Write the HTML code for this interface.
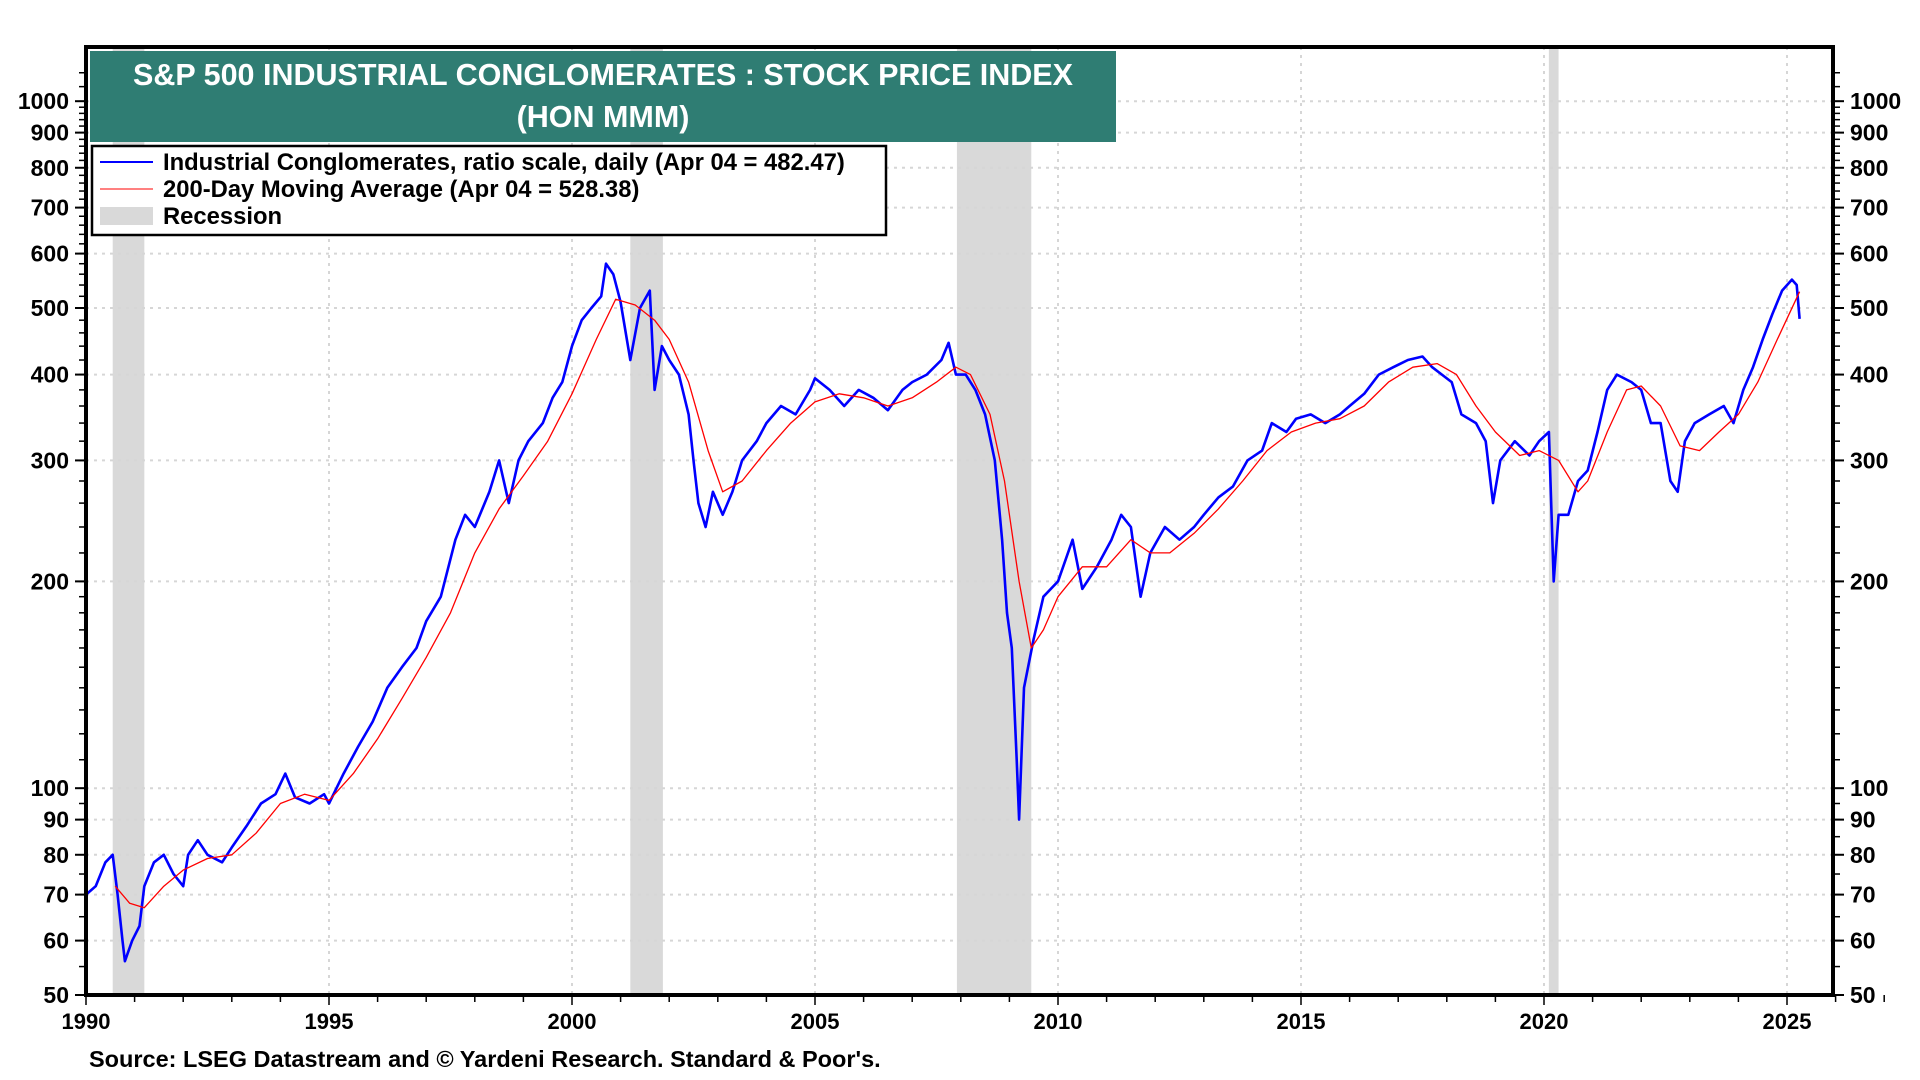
<!DOCTYPE html>
<html><head><meta charset="utf-8"><style>
html,body{margin:0;padding:0;background:#fff;width:1920px;height:1080px;overflow:hidden}
svg{display:block}
text{font-family:"Liberation Sans",Arial,sans-serif;font-weight:bold}
</style></head><body>
<svg id="chart" width="1920" height="1080" viewBox="0 0 1920 1080">
<g id="recessions"></g>
<g id="grid"></g>
<g id="series"></g>
<g id="axes"></g>
<rect x="90" y="51" width="1026" height="91" fill="#2f7d73"/>
<text x="603" y="85" fill="#fff" font-size="30.5" text-anchor="middle">S&amp;P 500 INDUSTRIAL CONGLOMERATES : STOCK PRICE INDEX</text>
<text x="603" y="127" fill="#fff" font-size="30.5" text-anchor="middle">(HON MMM)</text>
<g>
<rect x="92" y="146" width="794" height="89" fill="#fff" stroke="#000" stroke-width="2.5"/>
<line x1="100" y1="162" x2="153" y2="162" stroke="#0000ff" stroke-width="2"/>
<text x="163" y="170" font-size="23.8">Industrial Conglomerates, ratio scale, daily (Apr 04 = 482.47)</text>
<line x1="100" y1="189" x2="153" y2="189" stroke="#ff0000" stroke-width="1"/>
<text x="163" y="197" font-size="23.8">200-Day Moving Average (Apr 04 = 528.38)</text>
<rect x="100" y="207" width="53" height="18" fill="#d9d9d9"/>
<text x="163" y="224" font-size="23.8">Recession</text>
</g>
<text x="89" y="1067" font-size="23.5">Source: LSEG Datastream and © Yardeni Research. Standard &amp; Poor's.</text>
</svg>
<script>
const idxYears=[1990.0,1990.2,1990.4,1990.55,1990.65,1990.75,1990.8,1990.95,1991.1,1991.2,1991.4,1991.6,1991.8,1992.0,1992.1,1992.3,1992.5,1992.8,1993.0,1993.3,1993.6,1993.9,1994.1,1994.3,1994.6,1994.9,1995.0,1995.3,1995.6,1995.9,1996.2,1996.5,1996.8,1997.0,1997.3,1997.6,1997.8,1998.0,1998.3,1998.5,1998.7,1998.9,1999.1,1999.4,1999.6,1999.8,2000.0,2000.2,2000.4,2000.6,2000.7,2000.85,2001.0,2001.2,2001.4,2001.6,2001.7,2001.85,2002.0,2002.2,2002.4,2002.5,2002.6,2002.75,2002.9,2003.1,2003.3,2003.5,2003.8,2004.0,2004.3,2004.6,2004.9,2005.0,2005.3,2005.6,2005.9,2006.2,2006.5,2006.8,2007.0,2007.3,2007.6,2007.75,2007.9,2008.1,2008.3,2008.5,2008.7,2008.85,2008.95,2009.05,2009.15,2009.2,2009.3,2009.5,2009.7,2010.0,2010.3,2010.5,2010.8,2011.1,2011.3,2011.5,2011.7,2011.9,2012.2,2012.5,2012.8,2013.0,2013.3,2013.6,2013.9,2014.2,2014.4,2014.7,2014.9,2015.2,2015.5,2015.8,2016.0,2016.3,2016.6,2016.9,2017.2,2017.5,2017.7,2017.9,2018.1,2018.3,2018.6,2018.8,2018.95,2019.1,2019.4,2019.7,2019.9,2020.1,2020.2,2020.3,2020.5,2020.7,2020.9,2021.1,2021.3,2021.5,2021.8,2022.0,2022.2,2022.4,2022.6,2022.75,2022.9,2023.1,2023.4,2023.7,2023.9,2024.1,2024.3,2024.5,2024.7,2024.9,2025.1,2025.2,2025.26];
const idxValues=[70,72,78,80,70,60,56,60,63,72,78,80,75,72,80,84,80,78,82,88,95,98,105,97,95,98,95,105,115,125,140,150,160,175,190,230,250,240,270,300,260,300,320,340,370,390,440,480,500,520,580,560,510,420,500,530,380,440,420,400,350,300,260,240,270,250,270,300,320,340,360,350,380,395,380,360,380,370,355,380,390,400,420,445,400,400,380,350,300,230,180,160,110,90,140,165,190,200,230,195,210,230,250,240,190,220,240,230,240,250,265,275,300,310,340,330,345,350,340,350,360,375,400,410,420,425,410,400,390,350,340,320,260,300,320,305,320,330,200,250,250,280,290,330,380,400,390,380,340,340,280,270,320,340,350,360,340,380,410,450,490,530,550,540,482];
const maYears=[1990.6,1990.9,1991.2,1991.6,1992.0,1992.5,1993.0,1993.5,1994.0,1994.5,1995.0,1995.5,1996.0,1996.5,1997.0,1997.5,1998.0,1998.5,1999.0,1999.5,2000.0,2000.5,2000.9,2001.3,2001.7,2002.0,2002.4,2002.8,2003.1,2003.5,2004.0,2004.5,2005.0,2005.5,2006.0,2006.5,2007.0,2007.5,2007.9,2008.2,2008.6,2008.9,2009.2,2009.45,2009.7,2010.0,2010.5,2011.0,2011.5,2011.9,2012.3,2012.8,2013.3,2013.8,2014.3,2014.8,2015.3,2015.8,2016.3,2016.8,2017.3,2017.8,2018.2,2018.6,2019.0,2019.5,2019.9,2020.3,2020.7,2020.9,2021.3,2021.7,2022.0,2022.4,2022.8,2023.2,2023.6,2024.0,2024.4,2024.8,2025.26];
const maValues=[72,68,67,72,76,79,80,86,95,98,96,105,118,135,155,180,220,255,285,320,375,450,515,505,480,450,390,310,270,280,310,340,365,375,370,360,370,390,410,400,350,280,200,160,170,190,210,210,230,220,220,235,255,280,310,330,340,345,360,390,410,415,400,360,330,305,310,300,270,280,330,380,385,360,315,310,330,350,390,450,528];
const recStart=[1990.55,2001.2,2007.92,2020.1];
const recEnd=[1991.2,2001.87,2009.45,2020.3];
const yTicks=[50,60,70,80,90,100,200,300,400,500,600,700,800,900,1000];
const xTicks=[1990,1995,2000,2005,2010,2015,2020,2025];

const L=86,R=1833,T=47,B=995;
const X=y=>L+(y-1990)*48.6;
const Y=v=>B-Math.log10(v/50)*687;
const NS='http://www.w3.org/2000/svg';
function mk(tag,parent,attrs){const e=document.createElementNS(NS,tag);for(const k in attrs)e.setAttribute(k,attrs[k]);parent.appendChild(e);return e;}
const gR=document.getElementById('recessions'),gG=document.getElementById('grid'),gS=document.getElementById('series'),gA=document.getElementById('axes');
recStart.forEach((s,i)=>{const r=mk('rect',gR,{x:X(s),y:T,width:X(recEnd[i])-X(s),height:B-T,fill:'#d9d9d9'});

});
yTicks.forEach(v=>{const l=mk('line',gG,{x1:L,x2:R,y1:Y(v),y2:Y(v),stroke:'#d6d6d6','stroke-width':2,'stroke-dasharray':'3 5'});

});
xTicks.forEach(v=>{const l=mk('line',gG,{x1:X(v),x2:X(v),y1:T,y2:B,stroke:'#d6d6d6','stroke-width':2,'stroke-dasharray':'3 5'});

});
function pts(xs,vs){return xs.map((x,i)=>X(x).toFixed(1)+','+Y(vs[i]).toFixed(1)).join(' ');}
const ln1=mk('polyline',gS,{points:pts(idxYears,idxValues),fill:'none',stroke:'#0000ff','stroke-width':2.6,'stroke-linejoin':'round'});


const ln2=mk('polyline',gS,{points:pts(maYears,maValues),fill:'none',stroke:'#ff0000','stroke-width':1.3,'stroke-linejoin':'round'});


const minor=[];for(let v=50;v<=100;v+=5)minor.push(v);for(let v=110;v<200;v+=10)minor.push(v);for(let v=200;v<=1000;v+=20)minor.push(v);minor.push(1050,1100);
minor.forEach(v=>{if(Y(v)<T)return;mk('line',gA,{x1:L-7,x2:L,y1:Y(v),y2:Y(v),stroke:'#000','stroke-width':1.5});mk('line',gA,{x1:R,x2:R+7,y1:Y(v),y2:Y(v),stroke:'#000','stroke-width':1.5});});
yTicks.forEach(v=>{
mk('line',gA,{x1:L-11,x2:L,y1:Y(v),y2:Y(v),stroke:'#000','stroke-width':2});
mk('line',gA,{x1:R,x2:R+11,y1:Y(v),y2:Y(v),stroke:'#000','stroke-width':2});
const t1=mk('text',gA,{x:69,y:Y(v)+8,'font-size':23,'text-anchor':'end'});t1.textContent=v;


const t2=mk('text',gA,{x:1850,y:Y(v)+8,'font-size':23});t2.textContent=v;

});
for(let yr=1990;yr<=2028;yr++){const big=yr%5===0;mk('line',gA,{x1:X(yr),x2:X(yr),y1:B,y2:B+(big?10:7),stroke:'#000','stroke-width':1.5});}
xTicks.forEach(v=>{const t=mk('text',gA,{x:X(v),y:1029,'font-size':22,'text-anchor':'middle'});t.textContent=v;

});
const fr=mk('rect',gA,{x:L,y:T,width:R-L,height:B-T,fill:'none',stroke:'#000','stroke-width':4});


</script>
</body></html>
